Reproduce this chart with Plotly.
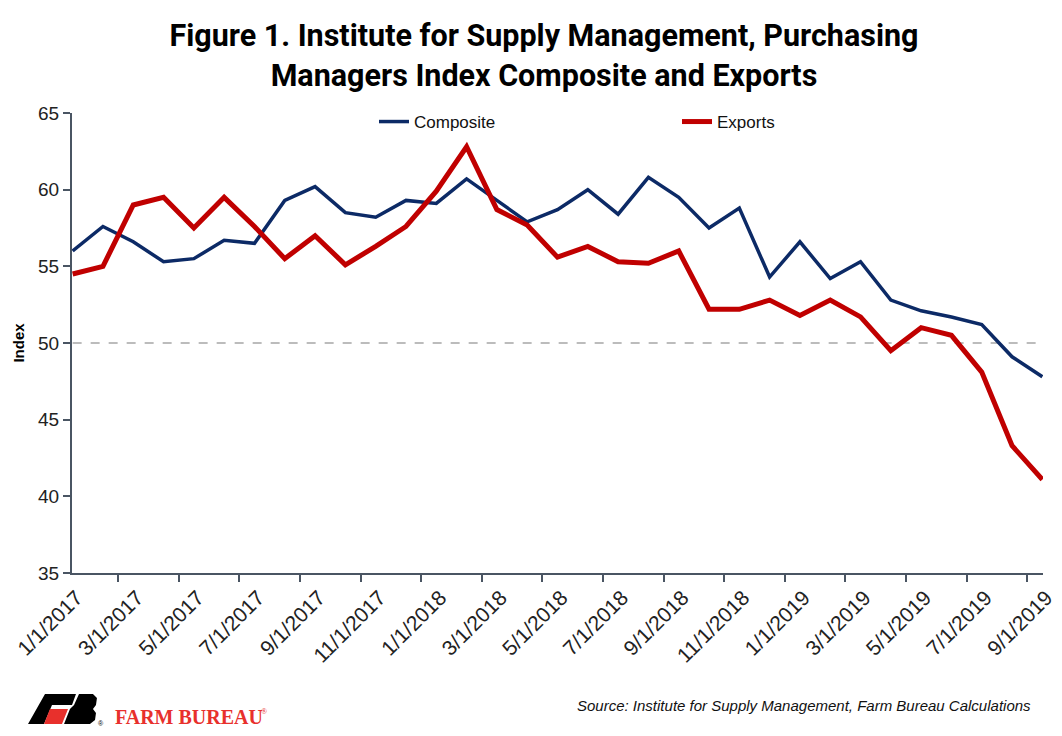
import plotly.graph_objects as go

# monthly dates, Jan 2017 - Sep 2019
months = [f"{m}/1/{y}" for y in (2017, 2018, 2019) for m in range(1, 13)][:33]

composite = [56.0, 57.6, 56.6, 55.3, 55.5, 56.7, 56.5, 59.3, 60.2, 58.5, 58.2, 59.3,
             59.1, 60.7, 59.3, 57.9, 58.7, 60.0, 58.4, 60.8, 59.5, 57.5, 58.8, 54.3,
             56.6, 54.2, 55.3, 52.8, 52.1, 51.7, 51.2, 49.1, 47.8]
exports = [54.5, 55.0, 59.0, 59.5, 57.5, 59.5, 57.6, 55.5, 57.0, 55.1, 56.3, 57.6,
           59.9, 62.8, 58.7, 57.7, 55.6, 56.3, 55.3, 55.2, 56.0, 52.2, 52.2, 52.8,
           51.8, 52.8, 51.7, 49.5, 51.0, 50.5, 48.1, 43.3, 41.1]
threshold = 50

# page has an 8px body margin, so the figure is a bit smaller than the window
OFF = 8
W, H = 1062 - OFF, 736 - OFF
L, R, T, B = 72 - OFF, 19, 113 - OFF, 163
pw, ph = W - L - R, H - T - B


def px(x, y):
    # screen pixels -> paper coords
    return (x - OFF - L) / pw, (H - B - (y - OFF)) / ph


def path(points):
    pts = [px(x, y) for x, y in points]
    return "M " + " L ".join(f"{a:.4f},{b:.4f}" for a, b in pts) + " Z"


fig = go.Figure()
fig.add_trace(go.Scatter(x=months, y=composite, name="Composite", mode="lines",
                         line=dict(color="#0c2a66", width=3.5)))
fig.add_trace(go.Scatter(x=months, y=exports, name="Exports", mode="lines",
                         line=dict(color="#c00000", width=5)))

fig.add_shape(type="line", xref="x", yref="y", x0=0, x1=len(months) - 1,
              y0=threshold, y1=threshold, line=dict(color="#a6a6a6", width=1.3, dash="dash"),
              layer="below")

# Farm Bureau logo
fig.add_shape(type="path", xref="paper", yref="paper", fillcolor="black", line_width=0,
              path=path([(45, 694), (76, 694), (72, 705), (52, 705), (44, 724), (28, 724)]))
fig.add_shape(type="path", xref="paper", yref="paper", fillcolor="#e8302c", line_width=0,
              path=path([(50, 709), (68, 709), (62, 724), (44, 724)]))
fig.add_shape(type="path", xref="paper", yref="paper", fillcolor="black", line_width=0,
              path=path([(79, 694), (93, 694), (97, 698), (96, 705), (93, 709), (96, 713),
                         (95, 720), (90, 724), (64, 724), (70, 709), (74, 705)]))
fig.add_annotation(xref="paper", yref="paper", x=px(113, 0)[0], y=px(0, 717)[1],
                   text="FARM BUREAU", showarrow=False, xanchor="left", yanchor="middle",
                   font=dict(family="Liberation Serif", size=20, color="#e8302c", weight="bold"))
fig.add_annotation(xref="paper", yref="paper", x=px(259, 0)[0], y=px(0, 711)[1],
                   text="®", showarrow=False, xanchor="left", yanchor="middle",
                   font=dict(family="Liberation Serif", size=8, color="#e8302c"))
fig.add_annotation(xref="paper", yref="paper", x=px(101, 0)[0], y=px(0, 723)[1],
                   text="®", showarrow=False, xanchor="center", yanchor="middle",
                   font=dict(family="Liberation Sans", size=7, color="black"))

fig.add_annotation(xref="paper", yref="paper", x=px(1033, 0)[0], y=px(0, 705)[1],
                   text="<i>Source: Institute for Supply Management, Farm Bureau Calculations</i>",
                   showarrow=False, xanchor="right", yanchor="middle",
                   font=dict(family="Liberation Sans", size=15, color="#111111"))

fig.update_layout(
    width=W, height=H,
    margin=dict(l=L, r=R, t=T, b=B),
    plot_bgcolor="white", paper_bgcolor="white",
    font=dict(family="Liberation Sans", color="#222222"),
    title=dict(text="<b>Figure 1. Institute for Supply Management, Purchasing<br>"
                    "Managers Index Composite and Exports</b>",
               x=(544 - OFF) / W, xanchor="center", y=1 - (46 - OFF) / H, yanchor="middle",
               font=dict(family="Roboto", size=30.5, color="black")),
    legend=dict(orientation="h", x=px(374, 0)[0], xanchor="left",
                y=px(0, 122)[1], yanchor="middle", entrywidth=258,
                font=dict(size=17, color="#111111"), bgcolor="rgba(0,0,0,0)"),
    xaxis=dict(type="category", tickson="boundaries", dtick=2, tickangle=-45,
               ticks="outside", ticklen=7, tickwidth=1.5, tickcolor="#4a5563",
               showline=True, linecolor="#4a5563", linewidth=2, showgrid=False,
               automargin=False, ticklabelshift=4, ticklabelstandoff=2,
               tickfont=dict(size=21, color="#222222")),
    yaxis=dict(range=[35, 65], dtick=5, ticks="outside", ticklen=7, tickwidth=1.5,
               tickcolor="#4a5563", showline=True, linecolor="#4a5563", linewidth=2,
               showgrid=False, zeroline=False, automargin=False,
               tickfont=dict(size=19, color="#222222"),
               title=dict(text="<b>Index</b>", font=dict(size=15, color="black"), standoff=10)),
)

fig.write_html("out.html")
